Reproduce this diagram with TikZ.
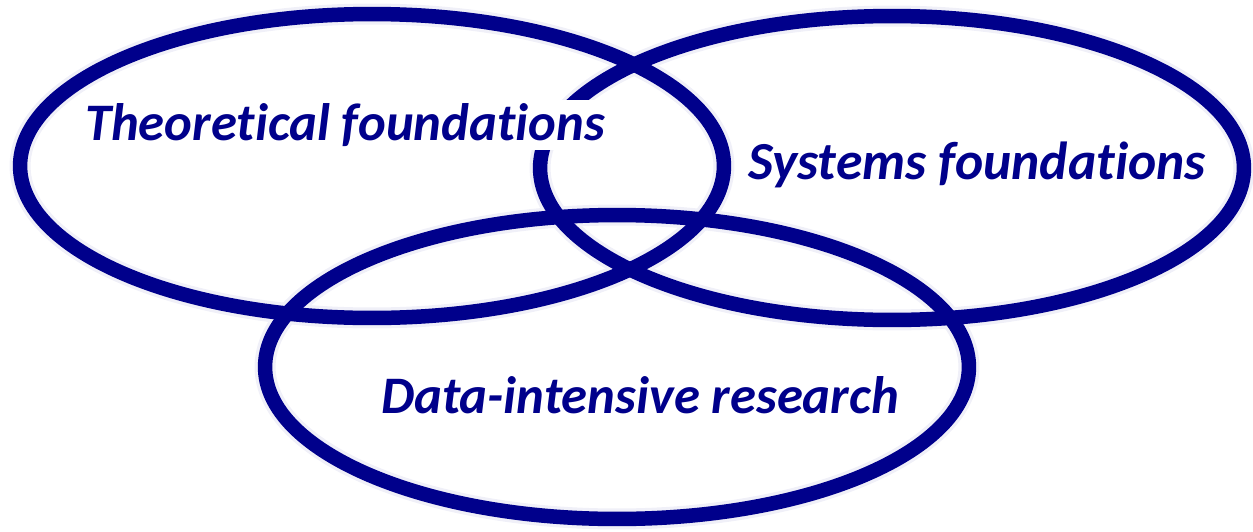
\documentclass[tikz,border=0pt]{standalone}
\usepackage{fontspec}
\setmainfont{Carlito}[Ligatures=NoCommon]
\usepackage{tikz}
\definecolor{navy}{RGB}{0, 0, 139}

\begin{document}
\begin{tikzpicture}[
    x=0.02cm, y=-0.02cm,
    ring/.style={draw=navy, line width=0.29cm},
    halo/.style={draw=navy!6, line width=0.42cm},
    area/.style={
      fill=white, text=navy, inner sep=2pt, anchor=base,
      font=\fontsize{30}{36}\selectfont\bfseries\itshape
    }
  ]
  \useasboundingbox (0,0) rectangle (1253,531);

  % ── Three overlapping fields ───────────────────────────────────
  \coordinate (theory)  at (372, 166);
  \coordinate (systems) at (892, 168);
  \coordinate (data)    at (617, 367);

  \foreach \c in {theory, systems, data}
    \draw[halo] (\c) ellipse [x radius=7.04cm, y radius=3.04cm];
  \foreach \c in {theory, systems, data}
    \draw[ring] (\c) ellipse [x radius=7.04cm, y radius=3.04cm];

  % ── Labels ─────────────────────────────────────────────────────
  \node[area] (lbltheory)  at (345, 140) {Theoretical foundations};
  \node[area, font=\fontsize{30.5}{36}\selectfont\bfseries\itshape]
    (lblsystems) at (977, 179) {Systems foundations};
  \node[area] (lbldata)    at (640, 413) {Data-intensive research};

\end{tikzpicture}
\end{document}
